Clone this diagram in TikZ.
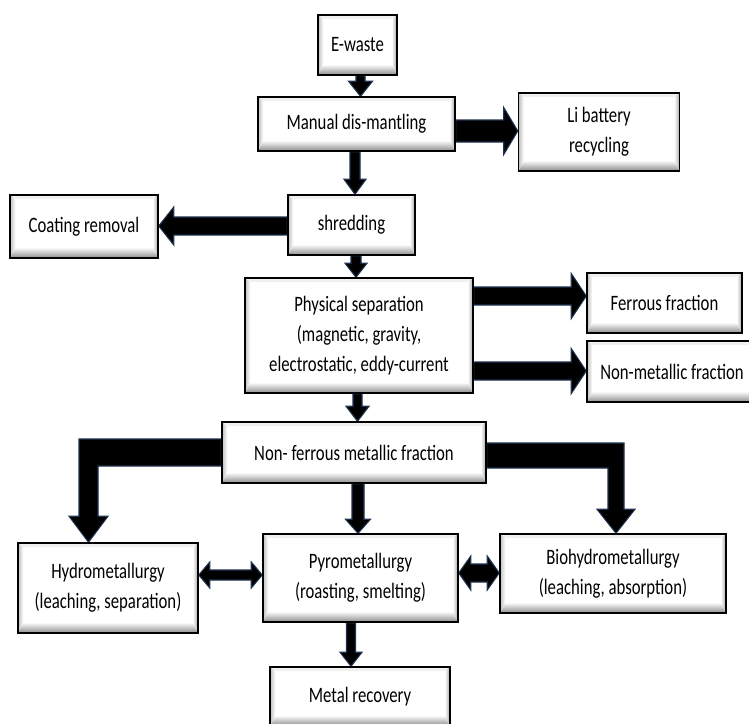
\documentclass[tikz,border=0pt]{standalone}
\usepackage{fontspec}
\setmainfont{Carlito}[FakeStretch=0.76]
\usetikzlibrary{calc}
\pgfdeclarelayer{bg}
\pgfsetlayers{bg,main}
\definecolor{navy}{HTML}{1F3250}
\tikzset{
  box/.style={draw=black, line width=1.1pt, fill=white, inner sep=0pt, align=center,
    font=\fontsize{16.5}{22.5}\selectfont,
    path picture={
      \coordinate (sw) at (path picture bounding box.south west);
      \coordinate (se) at (path picture bounding box.south east);
      \coordinate (nw) at (path picture bounding box.north west);
      \coordinate (ne) at (path picture bounding box.north east);
      \fill[gray!12] (nw) -- (ne) -- ($(ne)+(-4pt,-3pt)$) -- ($(nw)+(4pt,-3pt)$) -- cycle;
      \fill[left color=gray!50, right color=white] (sw) -- (nw) -- ($(nw)+(4pt,-3pt)$) -- ($(sw)+(4pt,8pt)$) -- cycle;
      \fill[right color=gray!70, left color=white] (se) -- (ne) -- ($(ne)+(-4pt,-3pt)$) -- ($(se)+(-4pt,8pt)$) -- cycle;
      \fill[bottom color=gray!90, top color=white] (sw) -- (se) -- ($(se)+(-4pt,8pt)$) -- ($(sw)+(4pt,8pt)$) -- cycle;
    }},
  arr/.style={fill=black, draw=navy, line width=0.8pt, line join=miter}
}
\newcommand\bx[6]{\node[box, minimum width=#4*0.75pt, minimum height=#5*0.75pt] (#1) at (#2,#3) {#6};}
% vertical down: #1 start coord, #2 target anchor, #3 shaft half, #4 head half, #5 head length
\newcommand\fatD[5]{\filldraw[arr] ($(#1)+(-#3,0)$) -- ($(#1 |- #2)+(-#3,-#5)$) -- ($(#1 |- #2)+(-#4,-#5)$) -- (#1 |- #2) -- ($(#1 |- #2)+(#4,-#5)$) -- ($(#1 |- #2)+(#3,-#5)$) -- ($(#1)+(#3,0)$) -- cycle;}
% horizontal right
\newcommand\fatR[5]{\filldraw[arr] ($(#1)+(0,-#3)$) -- ($(#2 |- #1)+(-#5,-#3)$) -- ($(#2 |- #1)+(-#5,-#4)$) -- (#2 |- #1) -- ($(#2 |- #1)+(-#5,#4)$) -- ($(#2 |- #1)+(-#5,#3)$) -- ($(#1)+(0,#3)$) -- cycle;}
% horizontal left
\newcommand\fatL[5]{\filldraw[arr] ($(#1)+(0,-#3)$) -- ($(#2 |- #1)+(#5,-#3)$) -- ($(#2 |- #1)+(#5,-#4)$) -- (#2 |- #1) -- ($(#2 |- #1)+(#5,#4)$) -- ($(#2 |- #1)+(#5,#3)$) -- ($(#1)+(0,#3)$) -- cycle;}
% double horizontal: #1 left tip coord, #2 right target anchor
\newcommand\fatLR[5]{\filldraw[arr] (#1) -- ($(#1)+(#5,-#4)$) -- ($(#1)+(#5,-#3)$) -- ($(#2 |- #1)+(-#5,-#3)$) -- ($(#2 |- #1)+(-#5,-#4)$) -- (#2 |- #1) -- ($(#2 |- #1)+(-#5,#4)$) -- ($(#2 |- #1)+(-#5,#3)$) -- ($(#1)+(#5,#3)$) -- ($(#1)+(#5,#4)$) -- cycle;}
\begin{document}
\begin{tikzpicture}[x=0.75pt, y=-0.75pt]
\useasboundingbox (0,0) rectangle (749,724);
\bx{ew}{357.5}{45}{79}{60}{E-waste}
\bx{man}{356.5}{124}{197}{54}{Manual dis-mantling}
\bx{li}{599}{132}{161}{78}{Li battery\\recycling}
\bx{coat}{84}{226.5}{148}{63}{Coating removal}
\bx{shr}{351.5}{225}{127}{60}{shredding}
\bx{phy}{359}{335.5}{228}{115}{Physical separation\\(magnetic, gravity,\\electrostatic, eddy-current}
\bx{fer}{664.5}{303}{155}{60}{Ferrous fraction}
\bx{nm}{672}{371.5}{170}{61}{Non-metallic fraction}
\bx{nf}{354}{452.5}{264}{61}{Non- ferrous metallic fraction}
\bx{hyd}{108}{588}{180}{90}{Hydrometallurgy\\(leaching, separation)}
\bx{pyr}{360.5}{578}{195}{88}{Pyrometallurgy\\(roasting, smelting)}
\bx{bio}{613}{573.5}{226}{79}{Biohydrometallurgy\\(leaching, absorption)}
\bx{met}{360}{696.5}{180}{59}{Metal recovery}
\coordinate (a1) at ($(ew.south)+(3,0)$);
\coordinate (a2) at ($(man.south)+(-1.5,0)$);
\coordinate (a3) at ($(shr.south)+(4.5,0)$);
\coordinate (a4) at ($(phy.south)+(-1.5,0)$);
\coordinate (a5) at ($(nf.south)+(4,0)$);
\coordinate (a6) at ($(pyr.south)+(-9.5,0)$);
\coordinate (b1) at ($(man.east)+(0,7)$);
\coordinate (b2) at ($(shr.west)+(0,1)$);
\coordinate (b3) at ($(phy.east)+(0,-39.5)$);
\coordinate (b4) at ($(phy.east)+(0,35.5)$);
\coordinate (c1) at ($(hyd.east)+(0,-13)$);
\coordinate (c2) at ($(pyr.east)+(0,-5)$);
\coordinate (hk) at ($(hyd.north)+(-19.5,0)$);
\coordinate (bk) at ($(bio.north)+(3,0)$);
\begin{pgfonlayer}{bg}
\fatD{a1}{man.north}{4.5}{12}{15}
\fatD{a2}{shr.north}{5}{11}{15}
\fatD{a3}{phy.north}{5}{11}{14}
\fatD{a4}{nf.north}{4.5}{11.5}{15}
\fatD{a5}{pyr.north}{6}{12.5}{14}
\fatD{a6}{met.north}{4.5}{11}{14}
\fatR{b1}{li.west}{11}{23.5}{14}
\fatL{b2}{coat.east}{9}{19}{15}
\fatR{b3}{fer.west}{9}{22.5}{15}
\fatR{b4}{nm.west}{9}{22.5}{15}
\fatLR{c1}{pyr.west}{5}{13}{11}
\fatLR{c2}{bio.west}{9}{17}{12}
\filldraw[arr] ($(nf.west)+(0,-13.5)$) -- ($(hk |- nf.west)+(-9.5,-13.5)$) -- ($(hk)+(-9.5,-26)$) -- ($(hk)+(-19.5,-26)$) -- (hk) -- ($(hk)+(19.5,-26)$) -- ($(hk)+(9.5,-26)$) -- ($(hk |- nf.west)+(9.5,13.5)$) -- ($(nf.west)+(0,13.5)$) -- cycle;
\filldraw[arr] ($(nf.east)+(0,-9.5)$) -- ($(bk |- nf.east)+(8,-9.5)$) -- ($(bk)+(8,-24)$) -- ($(bk)+(19,-24)$) -- (bk) -- ($(bk)+(-19,-24)$) -- ($(bk)+(-8,-24)$) -- ($(bk |- nf.east)+(-8,15.5)$) -- ($(nf.east)+(0,15.5)$) -- cycle;
\end{pgfonlayer}
\end{tikzpicture}
\end{document}
